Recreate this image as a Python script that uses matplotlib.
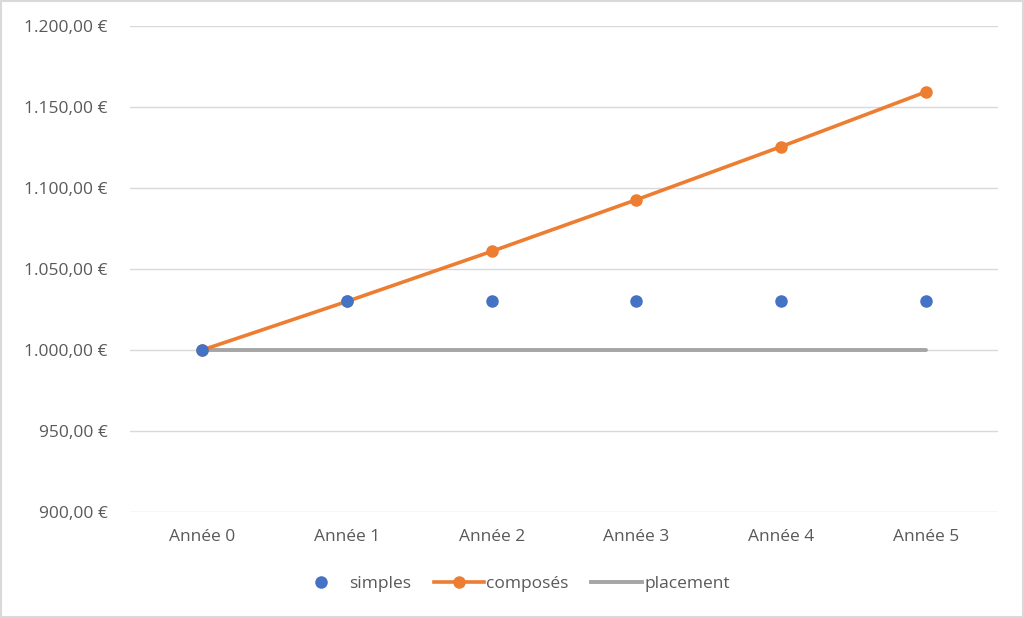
import matplotlib
matplotlib.use("Agg")
import matplotlib.pyplot as plt
from matplotlib.ticker import FuncFormatter
from matplotlib.lines import Line2D

categories = ["Année 0", "Année 1", "Année 2", "Année 3", "Année 4", "Année 5"]
simples = [1000.00, 1030.00, 1030.00, 1030.00, 1030.00, 1030.00]
composes = [1000.00, 1030.00, 1060.90, 1092.73, 1125.51, 1159.27]
placement = [1000.00, 1000.00, 1000.00, 1000.00, 1000.00, 1000.00]
yticks = [900, 950, 1000, 1050, 1100, 1150, 1200]

plt.rcParams['font.family'] = ['Open Sans', 'DejaVu Sans']

fig = plt.figure(figsize=(10.24, 6.18), dpi=100)
ax = fig.add_axes([130/1024, 1-512/618, 868/1024, (512-26)/618])

x = list(range(len(categories)))
ax.plot(x, placement, color="#a5a5a5", lw=2.8, zorder=2, solid_capstyle='round')
ax.plot(x, composes, color="#ed7d31", lw=2.6, marker='o', markersize=8,
        markerfacecolor="#ed7d31", markeredgecolor="#ed7d31", zorder=3)
ax.plot(x, simples, linestyle='none', marker='o', markersize=8,
        markerfacecolor="#4472c4", markeredgecolor="#4472c4", zorder=4)

ax.set_xlim(-0.5, 5.5)
ax.set_ylim(900, 1200)
ax.set_yticks(yticks)
def fmt(v, pos):
    s = f"{v:,.2f}".replace(",", " ").replace(".", ",").replace(" ", ".")
    return s + " €"
ax.yaxis.set_major_formatter(FuncFormatter(fmt))
ax.set_xticks(x)
ax.set_xticklabels(categories)
ax.grid(axis='y', color="#d9d9d9", lw=1)
ax.set_axisbelow(True)
for s in ax.spines.values():
    s.set_visible(False)
ax.tick_params(axis='both', length=0, colors="#595959", labelsize=12.5)
ax.tick_params(axis='y', pad=16)
ax.tick_params(axis='x', pad=12)

handles = [
    Line2D([], [], linestyle='none', marker='o', markersize=8, color="#4472c4"),
    Line2D([], [], color="#ed7d31", lw=2.6, marker='o', markersize=8),
    Line2D([], [], color="#a5a5a5", lw=2.8),
]
fig.legend(handles, ["simples", "composés", "placement"], loc='center',
           bbox_to_anchor=(513/1024, 1-584/618), ncol=3, frameon=False,
           fontsize=12.5, labelcolor="#595959", handlelength=2.9, columnspacing=1.3,
           handletextpad=0.15)

border = plt.Rectangle((0.001, 0.001), 0.998, 0.997, transform=fig.transFigure,
                       fill=False, edgecolor="#d9d9d9", lw=1.5)
fig.patches.append(border)

fig.savefig("out.png", dpi=100)
